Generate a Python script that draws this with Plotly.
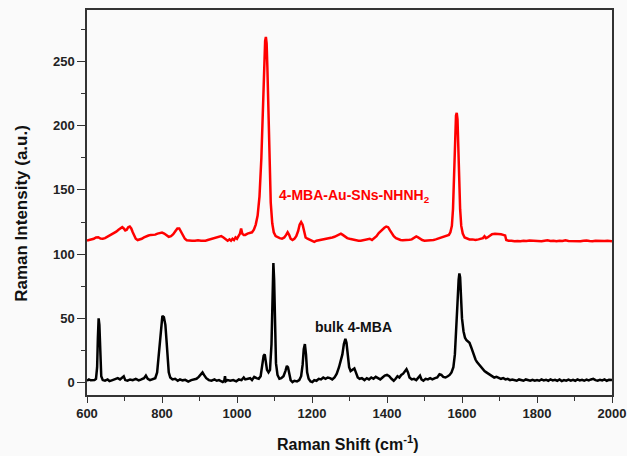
import plotly.graph_objects as go

# Bulk 4-MBA spectrum (black)
bulk_x = [600, 605, 610, 615, 620, 624, 627, 629, 631, 633, 635, 638, 642, 648, 655, 660, 668, 675, 682, 688,
          694, 698, 702, 708, 715, 722, 730, 738, 745, 752, 757, 762, 768, 775, 782, 787, 792, 797, 801, 805,
          809, 812, 815, 818, 822, 828, 835, 842, 848, 855, 862, 870, 878, 885, 892, 898, 904, 908, 912, 918,
          925, 932, 940, 946, 952, 958, 962, 966, 968, 970, 975, 982, 990, 998, 1005, 1012, 1018, 1022, 1028, 1035,
          1040, 1046, 1052, 1058, 1063, 1067, 1071, 1074, 1077, 1080, 1084, 1088, 1092, 1095, 1097, 1099, 1101, 1104, 1108, 1113,
          1118, 1124, 1129, 1133, 1136, 1139, 1143, 1148, 1153, 1160, 1166, 1171, 1175, 1178, 1181, 1184, 1187, 1191, 1196, 1201,
          1206, 1212, 1218, 1224, 1230, 1236, 1242, 1248, 1254, 1260, 1266, 1272, 1277, 1281, 1285, 1289, 1292, 1295, 1299, 1303,
          1308, 1313, 1317, 1322, 1327, 1333, 1340, 1346, 1352, 1358, 1364, 1370, 1376, 1382, 1388, 1394, 1400, 1406, 1412, 1418,
          1423, 1428, 1433, 1438, 1443, 1448, 1452, 1456, 1460, 1466, 1472, 1478, 1483, 1488, 1492, 1497, 1503, 1509, 1515, 1521,
          1528, 1534, 1540, 1545, 1550, 1556, 1562, 1567, 1572, 1577, 1581, 1585, 1588, 1591, 1593, 1595, 1597, 1600, 1604, 1608,
          1612, 1616, 1620, 1624, 1628, 1632, 1636, 1640, 1645, 1650, 1655, 1660, 1665, 1670, 1675, 1680, 1686, 1692, 1698, 1704,
          1710, 1716, 1722, 1728, 1734, 1740, 1746, 1752, 1758, 1764, 1770, 1776, 1782, 1788, 1794, 1800, 1806, 1812, 1818, 1824,
          1830, 1836, 1842, 1848, 1854, 1860, 1866, 1872, 1878, 1884, 1890, 1896, 1902, 1908, 1914, 1920, 1926, 1932, 1938, 1944,
          1950, 1956, 1962, 1968, 1974, 1980, 1986, 1992, 2000]
bulk_y = [1.5, 2.5, 1.8, 2.2, 2.0, 3, 12, 35, 50, 45, 20, 5, 2, 1.5, 2.5, 1.2, 2, 2.8, 3.5, 2.5,
          4, 5, 2, 1.5, 2.5, 2, 3, 1.8, 2.5, 3.5, 5.5, 3, 2, 2.5, 3.5, 8, 25, 45, 52, 51,
          45, 33, 18, 8, 4, 2.5, 3, 1.5, 2.5, 1.8, 2.2, 0.8, 2, 2.5, 3, 4.5, 7, 8, 6, 3.5,
          2, 1.5, 2.5, 1.5, 2, 1, 0.5, 1.5, 5, 1, 2, 1.5, 2, 1, 2.5, 2, 4, 2.5, 3, 3.5,
          2, 4.5, 3.5, 3, 5, 12, 21, 22, 17, 10, 8, 10, 30, 70, 93, 80, 45, 15, 6, 3,
          3.5, 5, 9, 13, 12, 7, 2, 0.5, 1.5, 1, 2, 5, 14, 26, 30, 22, 8, 3, 1, 0.5,
          2, 1.5, 3, 2.5, 4, 3, 4, 3.5, 2.5, 4, 7, 12, 18, 22, 30, 34, 31, 22, 12, 9,
          10, 11, 8, 4, 3, 3.5, 2, 3.5, 2.5, 4, 3, 4.5, 3.5, 2.5, 4, 5.5, 6, 5, 3, 1.5,
          3, 5, 4, 6, 7, 9.5, 10.5, 8, 4, 2.5, 3, 2, 3.5, 5.5, 2.5, 1.5, 3, 2.5, 3.5, 2.5,
          3.5, 4, 6.5, 6, 4.5, 4, 5, 6, 8, 12, 22, 40, 62, 80, 85, 82, 68, 50, 40, 35,
          33, 32, 31, 28, 24, 20, 18, 16, 14, 13, 11, 9, 8, 7, 6, 5, 4, 4.5, 3.5, 3,
          3.5, 2.5, 3, 2, 2.5, 2, 1.5, 2.5, 2, 1.5, 2.5, 2, 1.5, 2.2, 1.5, 2, 1.5, 2.5, 1.8, 2.3,
          1.5, 2.5, 1.8, 2.2, 1.5, 2.5, 1.2, 2, 1.5, 2.3, 1.6, 2.2, 1.5, 2.5, 1.8, 2.2, 1.5, 2.4, 1.8, 2.5,
          3, 2, 1.5, 2.3, 1.8, 2.5, 1.5, 2.2, 2]

# 4-MBA-Au-SNs-NHNH2 spectrum (red)
sers_x = [600, 606, 612, 618, 624, 630, 636, 642, 648, 654, 660, 666, 672, 678, 684, 690, 694, 698, 702, 706,
          710, 714, 718, 722, 726, 730, 735, 740, 746, 752, 758, 764, 770, 776, 782, 788, 794, 800, 806, 812,
          818, 824, 830, 836, 841, 846, 851, 856, 861, 866, 872, 880, 888, 896, 904, 910, 916, 922, 928, 934,
          940, 946, 952, 958, 964, 970, 975, 980, 984, 988, 992, 996, 1000, 1004, 1008, 1011, 1014, 1018, 1022, 1028,
          1034, 1040, 1045, 1050, 1055, 1060, 1065, 1069, 1072, 1075, 1077, 1079, 1081, 1084, 1087, 1090, 1094, 1098, 1103, 1108,
          1114, 1120, 1126, 1131, 1135, 1139, 1143, 1148, 1153, 1158, 1163, 1167, 1171, 1175, 1179, 1183, 1188, 1194, 1200, 1206,
          1212, 1218, 1224, 1230, 1236, 1242, 1248, 1254, 1260, 1266, 1272, 1277, 1282, 1288, 1294, 1300, 1306, 1312, 1318, 1324,
          1330, 1336, 1342, 1348, 1354, 1360, 1366, 1372, 1378, 1383, 1388, 1393, 1398, 1403, 1408, 1413, 1418, 1424, 1430, 1436,
          1442, 1448, 1454, 1460, 1466, 1472, 1478, 1483, 1488, 1494, 1500, 1506, 1512, 1518, 1524, 1530, 1536, 1542, 1548, 1554,
          1560, 1565, 1569, 1573, 1576, 1579, 1582, 1584, 1586, 1588, 1590, 1592, 1595, 1598, 1602, 1607, 1613, 1620, 1628, 1636,
          1644, 1650, 1656, 1660, 1664, 1668, 1674, 1680, 1688, 1696, 1704, 1710, 1715, 1718, 1724, 1732, 1740, 1748, 1756, 1764,
          1772, 1780, 1788, 1796, 1804, 1812, 1820, 1828, 1836, 1844, 1852, 1860, 1868, 1876, 1884, 1892, 1900, 1908, 1916, 1924,
          1932, 1940, 1948, 1956, 1964, 1972, 1980, 1988, 2000]
sers_y = [110.5, 110.8, 111.5, 112, 113, 113.2, 112.2, 112, 112.5, 113.5, 114, 115, 116, 117.5, 119, 120.5, 121, 120, 118.5, 119,
          121, 121.5, 120, 117, 114, 112, 111, 111.2, 112, 113, 114, 114.5, 115, 115, 115.2, 116, 116.5, 116.8, 116, 114.5,
          113.5, 114, 115.5, 118, 120, 120, 117.5, 114.5, 112, 110.8, 110.5, 110.5, 110.5, 110.8, 110.5, 110.2, 110.5, 111, 111.5, 112.2,
          113, 113.5, 114, 114, 113, 111.5, 110.5, 111.5, 110.5, 112, 111, 113, 112, 114, 116, 120, 116, 115, 115, 116,
          116.5, 117, 119, 123, 130, 145, 175, 215, 245, 266, 269, 264, 245, 205, 165, 140, 124, 117, 114, 113,
          112.5, 112, 113, 115, 117, 115, 112, 111, 112, 114, 118, 123, 125, 123, 117, 113, 112, 111, 110, 109.5,
          110.5, 110.8, 111, 111.2, 111.5, 112, 112.5, 113, 113.5, 114.5, 115.5, 116, 115, 113.5, 112.5, 112, 111.5, 111.5, 111, 110.5,
          110.5, 111, 111.5, 112, 112, 111, 112.5, 114, 116.5, 118, 119, 120.5, 121.5, 121, 118.5, 116, 114, 112.5, 111.5, 111,
          110.8, 110.8, 111, 111.2, 111.5, 112.5, 113.8, 113, 112, 111, 110.5, 110.5, 110.5, 110.8, 111, 111.5, 112, 112.5, 113, 113.5,
          114, 115, 117, 122, 135, 165, 195, 208, 210, 205, 185, 160, 135, 122, 116, 113, 112, 111.5, 111.5, 111,
          111.5, 112, 112.5, 114, 112.5, 113, 114.5, 115.5, 115.8, 115.8, 115.5, 115, 114.5, 111, 110.5, 110.5, 110, 110.3, 110, 110.5,
          110.2, 110.6, 110.3, 110.5, 110.2, 110, 110.5, 110.8, 110.2, 110.5, 110, 110.5, 110.2, 110.8, 110.3, 110.2, 110.6, 110.2, 110, 110.5,
          110.7, 110.2, 110, 110.5, 110.3, 110.1, 110.2, 110.5, 110]

labels = ["4-MBA-Au-SNs-NHNH<sub>2</sub>", "bulk 4-MBA"]
x_title = "Raman Shift (cm<sup>-1</sup>)"
y_title = "Raman Intensity (a.u.)"

FONT = "Liberation Sans, Arial, sans-serif"

fig = go.Figure()
fig.add_trace(go.Scatter(x=sers_x, y=sers_y, mode="lines",
                         line=dict(color="#ff0000", width=2.5), showlegend=False))
fig.add_trace(go.Scatter(x=bulk_x, y=bulk_y, mode="lines",
                         line=dict(color="#000000", width=2.5), showlegend=False))

fig.add_annotation(x=1107, y=145.5, text="<b>" + labels[0] + "</b>", showarrow=False,
                   xanchor="left", yanchor="middle",
                   font=dict(family=FONT, size=14, color="#ff0000"))
fig.add_annotation(x=1203, y=43.5, text="<b>" + labels[1] + "</b>", showarrow=False,
                   xanchor="left", yanchor="middle",
                   font=dict(family=FONT, size=14, color="#111111"))

# axis titles
fig.add_annotation(xref="paper", yref="paper", x=0.497, y=-0.124, text="<b>" + x_title + "</b>",
                   showarrow=False, xanchor="center", yanchor="middle",
                   font=dict(family=FONT, size=16, color="#111111"))
fig.add_annotation(xref="paper", yref="paper", x=-0.124, y=0.473, text="<b>" + y_title + "</b>",
                   showarrow=False, xanchor="center", yanchor="middle", textangle=-90,
                   font=dict(family=FONT, size=17, color="#111111"))

axis_common = dict(showline=True, mirror=True, linecolor="#333333", linewidth=1.5,
                   showgrid=False, zeroline=False, ticks="outside", automargin=False,
                   tickwidth=1.3, tickcolor="#333333",
                   tickfont=dict(family=FONT, size=13, color="#222222", weight="bold"))

fig.update_xaxes(range=[600, 2000], tick0=600, dtick=200, ticklen=6,
                 minor=dict(dtick=100, ticks="outside", ticklen=4, tickcolor="#333333", tickwidth=1.2),
                 **axis_common)
fig.update_yaxes(range=[-9.6, 290], tick0=0, dtick=50, ticklen=8,
                 minor=dict(dtick=25, ticks="outside", ticklen=4, tickcolor="#333333", tickwidth=1.2),
                 **axis_common)

fig.update_layout(width=627, height=456,
                  margin=dict(l=87, r=15, t=10, b=61),
                  paper_bgcolor="#fafafa", plot_bgcolor="#fafafa")

fig.write_html("out.html")
